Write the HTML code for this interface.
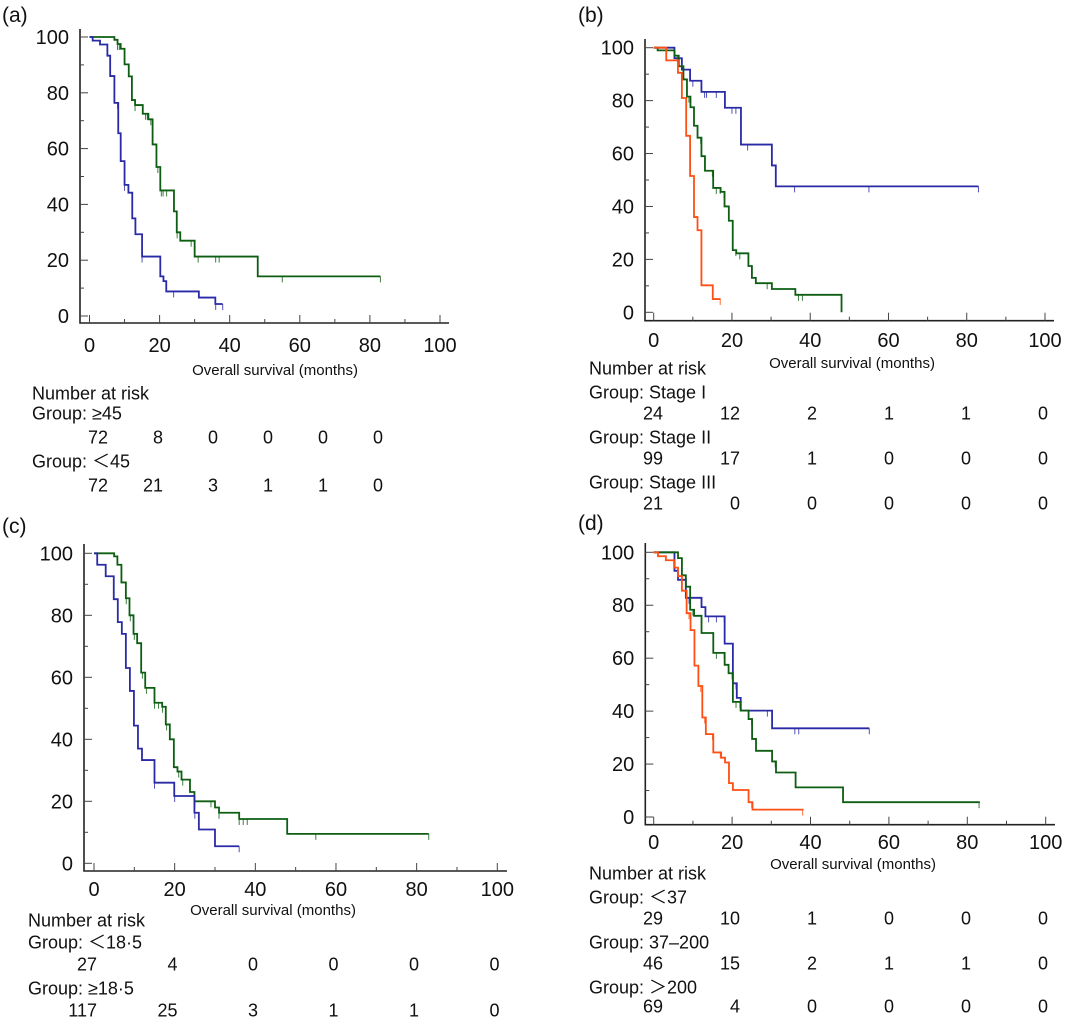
<!DOCTYPE html>
<html><head><meta charset="utf-8">
<style>
html,body{margin:0;padding:0;background:#fff;}
svg{display:block;font-family:"Liberation Sans","Noto Sans CJK SC",sans-serif;}
</style></head>
<body>
<svg id="fig" width="1065" height="1020" viewBox="0 0 1065 1020" xmlns="http://www.w3.org/2000/svg"></svg>
<script>
// ---------- Panel (a) data ----------
const aGreenT = [7.1, 8, 8.9, 10, 11.2, 12.1, 13, 15.2, 16.8, 18, 19.1, 20.2, 24.1, 24.9, 25.9, 30, 48];
const aGreenS = [99, 97.5, 95.8, 90.2, 85.9, 77.4, 75.6, 72.5, 70.5, 61.5, 53.4, 45, 37.5, 30, 27, 21.3, 14.2];
const aGreenCensor = [8, 8.5, 12, 13, 16, 16.5, 17.5, 19.5, 20.5, 21, 22, 25, 29, 31, 36, 37, 55, 83];
const aGreenEnd = 83;
const aBlueT = [0.9, 3, 5.1, 5.9, 7.1, 8.2, 8.9, 10, 11.1, 12.2, 13.1, 15, 20.2, 21.1, 21.9, 31.2, 35.9];
const aBlueS = [98.7, 97.3, 93.3, 86, 76.4, 65.5, 55.5, 47, 44.2, 35, 29.3, 21.3, 14.2, 12.5, 8.8, 6.6, 4.3];
const aBlueCensor = [8, 10, 13, 15, 24, 36, 38];
const aBlueEnd = 38;
// ---------- Panel (b) data ----------
const bBlueT = [5.3, 7.2, 9.3, 12.2, 18.2, 22.3, 30.2, 31.2];
const bBlueS = [96, 91.7, 87.5, 83.3, 77.3, 63.4, 55.5, 47.6];
const bBlueCensor = [10, 13, 13.5, 16, 20, 21, 24, 36, 55, 83];
const bBlueEnd = 83;
const bGreenT = [1, 5.3, 6.4, 7.6, 8.5, 9.4, 10.3, 11.2, 12.2, 13.1, 15.2, 17.1, 18.1, 19.2, 20.2, 21.1, 24.2, 25.1, 26.1, 30.2, 36.2, 48];
const bGreenS = [99, 97, 93, 88, 81.5, 77.5, 70.5, 66, 59, 53.5, 47, 45.5, 40, 34.6, 23.5, 22.3, 17.5, 13, 11, 8.8, 6.6, 0];
const bGreenCensor = [6, 7.5, 9, 12, 15, 16, 17, 18, 21, 22, 25, 29, 37, 38];
const bGreenEnd = 48;
const bOrangeT = [3.2, 6.2, 7.2, 8.3, 9.3, 10.3, 11.2, 12.2, 15.1];
const bOrangeS = [95.2, 90.5, 81, 66.7, 51.5, 36, 31, 10.2, 5];
const bOrangeCensor = [17];
const bOrangeEnd = 17.1;
// ---------- Panel (c) data ----------
const cGreenT = [5, 5.8, 6.8, 7.9, 8.8, 9.8, 10.7, 11.7, 12.7, 15, 16.9, 17.8, 18.8, 19.8, 20.7, 21.7, 23.8, 24.9, 30, 31, 36, 47.9];
const cGreenS = [99, 96.3, 90.6, 85.5, 80, 74, 71, 61.5, 56.6, 51.8, 50.5, 44.8, 40, 31, 29.6, 27, 23, 20, 18, 16.3, 14.3, 9.5];
const cGreenCensor = [8, 9, 10, 12, 13, 15, 16, 17, 18, 21, 22, 25, 29, 31, 36, 37, 38, 55, 83];
const cGreenEnd = 83;
const cBlueT = [0.8, 2.9, 4.9, 5.9, 6.9, 7.9, 8.9, 9.9, 10.9, 11.9, 15, 19.9, 24.9, 26, 30];
const cBlueS = [96.3, 92.6, 85.2, 77.8, 74, 63, 55.6, 44.4, 37, 33.3, 26, 21.7, 16.3, 10.9, 5.5];
const cBlueCensor = [15, 20, 25, 36];
const cBlueEnd = 36;
// ---------- Panel (d) data ----------
const dBlueT = [5.3, 6.2, 8.2, 12.2, 13.2, 18.1, 20.2, 21.2, 22.2, 30.2];
const dBlueS = [93, 89.6, 82.8, 79.3, 75.8, 65.5, 50.5, 45, 40.2, 33.5];
const dBlueCensor = [9, 14, 16, 18, 21, 29, 36, 37, 55];
const dBlueEnd = 55;
const dGreenT = [6.2, 7.2, 8.2, 9.3, 10.3, 12.2, 15.2, 18.1, 19.1, 20.2, 22.2, 24.2, 25.1, 26.1, 30.2, 31.2, 36.2, 48.3];
const dGreenS = [97.8, 91.3, 87, 78.3, 76, 69.5, 62, 57.5, 54.3, 43.5, 40.2, 37, 29.5, 25, 21, 16.8, 11.2, 5.6];
const dGreenCensor = [10, 16, 18, 20, 21, 22, 25, 31, 83];
const dGreenEnd = 83.2;
const dOrangeT = [1.1, 3.1, 5.2, 6.2, 7.2, 8.4, 9.4, 10.4, 11.4, 12.4, 13.3, 15.2, 17.2, 18.2, 19.2, 20.2, 24.2, 25.2];
const dOrangeS = [98.5, 97, 94.2, 91, 85.5, 77, 70.6, 57.2, 49.5, 37.6, 31.3, 24.4, 22.4, 20.6, 12.8, 10.2, 5.6, 2.8];
const dOrangeCensor = [9, 12, 13, 15, 17, 25, 38];
const dOrangeEnd = 38.2;
// ---------- Axis ticks ----------
const xTickLabels = [0, 20, 40, 60, 80, 100];
const yTickLabels = [0, 20, 40, 60, 80, 100];
// ---------- Risk tables ----------
const aRiskGroups = ["Group: ≥45", "Group: ＜45"];
const aRiskValues = [[72, 8, 0, 0, 0, 0], [72, 21, 3, 1, 1, 0]];
const bRiskGroups = ["Group: Stage I", "Group: Stage II", "Group: Stage III"];
const bRiskValues = [[24, 12, 2, 1, 1, 0], [99, 17, 1, 0, 0, 0], [21, 0, 0, 0, 0, 0]];
const cRiskGroups = ["Group: ＜18·5", "Group: ≥18·5"];
const cRiskValues = [[27, 4, 0, 0, 0, 0], [117, 25, 3, 1, 1, 0]];
const dRiskGroups = ["Group: ＜37", "Group: 37–200", "Group: ＞200"];
const dRiskValues = [[29, 10, 1, 0, 0, 0], [46, 15, 2, 1, 1, 0], [69, 4, 0, 0, 0, 0]];

const BLUE = "#2a2aa6", GREEN = "#0d5e12", ORANGE = "#ff4f14";
const NS = "http://www.w3.org/2000/svg";
const svg = document.getElementById("fig");
function mk(tag, attrs, parent) {
  const e = document.createElementNS(NS, tag);
  for (const k in attrs) e.setAttribute(k, attrs[k]);
  (parent || svg).appendChild(e);
  return e;
}

const panels = [
  {id: "a", label: "(a)", lx: 2, ly: 22, x0: 89.5, x100: 440, y0: 316, y100: 37, axX: 80, axY: 323, axTop: 29, axRight: 449,
   tickY: 352, titleX: 275, titleY: 375, riskX: 32, riskYs: [393, 413, 437, 461, 485], riskNumX: 108, riskNumStep: 55,
   groups: aRiskGroups, values: aRiskValues,
   series: [
     {name: "green", color: GREEN, t: aGreenT, s: aGreenS, c: aGreenCensor, end: aGreenEnd},
     {name: "blue", color: BLUE, t: aBlueT, s: aBlueS, c: aBlueCensor, end: aBlueEnd}]},
  {id: "b", label: "(b)", lx: 578, ly: 22, x0: 653.7, x100: 1045, y0: 312.3, y100: 47.7, axX: 645, axY: 320.7, axTop: 39, axRight: 1054,
   tickY: 347, titleX: 852, titleY: 368, riskX: 589, riskYs: [368, 392, 413, 437, 458, 482, 503], riskNumX: 663, riskNumStep: 77,
   groups: bRiskGroups, values: bRiskValues,
   series: [
     {name: "blue", color: BLUE, t: bBlueT, s: bBlueS, c: bBlueCensor, end: bBlueEnd},
     {name: "green", color: GREEN, t: bGreenT, s: bGreenS, c: bGreenCensor, end: bGreenEnd},
     {name: "orange", color: ORANGE, t: bOrangeT, s: bOrangeS, c: bOrangeCensor, end: bOrangeEnd}]},
  {id: "c", label: "(c)", lx: 2, ly: 533, x0: 94, x100: 497.3, y0: 863.3, y100: 553.3, axX: 84, axY: 871, axTop: 544, axRight: 507,
   tickY: 896, titleX: 273, titleY: 915, riskX: 28, riskYs: [920, 942, 964, 988, 1010], riskNumX: 97, riskNumStep: 80.5,
   groups: cRiskGroups, values: cRiskValues,
   series: [
     {name: "green", color: GREEN, t: cGreenT, s: cGreenS, c: cGreenCensor, end: cGreenEnd},
     {name: "blue", color: BLUE, t: cBlueT, s: cBlueS, c: cBlueCensor, end: cBlueEnd}]},
  {id: "d", label: "(d)", lx: 578, ly: 530, x0: 653.7, x100: 1045.7, y0: 817, y100: 552.3, axX: 645.3, axY: 824.7, axTop: 543, axRight: 1055,
   tickY: 849, titleX: 853, titleY: 869, riskX: 589, riskYs: [873, 897, 918, 942, 963, 987, 1006], riskNumX: 663, riskNumStep: 77,
   groups: dRiskGroups, values: dRiskValues,
   series: [
     {name: "blue", color: BLUE, t: dBlueT, s: dBlueS, c: dBlueCensor, end: dBlueEnd},
     {name: "green", color: GREEN, t: dGreenT, s: dGreenS, c: dGreenCensor, end: dGreenEnd},
     {name: "orange", color: ORANGE, t: dOrangeT, s: dOrangeS, c: dOrangeCensor, end: dOrangeEnd}]}
];

function survAt(ser, t) {
  let v = 100;
  for (let i = 0; i < ser.t.length; i++) if (ser.t[i] <= t) v = ser.s[i];
  return v;
}

panels.forEach(p => {
  const sx = t => p.x0 + (p.x100 - p.x0) * t / 100;
  const sy = v => p.y0 - (p.y0 - p.y100) * v / 100;
  const g = mk("g", {});
  
  

  const lab = mk("text", {x: p.lx, y: p.ly, "font-size": 21, fill: "#111"}, g);
  lab.textContent = p.label;
  
  

  const ax = mk("path", {d: `M${p.axX},${p.axTop}V${p.axY}H${p.axRight}`, fill: "none", stroke: "#222", "stroke-width": 1.6}, g);
  
  
  for (let v = 0; v <= 100; v += 10) {
    const len = v % 20 === 0 ? 8 : 4;
    mk("line", {x1: p.axX, x2: p.axX + len, y1: sy(v), y2: sy(v), stroke: "#444", "stroke-width": 1}, g);
  }
  yTickLabels.forEach(v => {
    const t = mk("text", {x: p.axX - 11, y: sy(v) + 7, "font-size": 20, "text-anchor": "end", fill: "#111"}, g);
    t.textContent = v;
    
    
  });
  for (let m = 0; m <= 100; m += 10) {
    const len = m % 20 === 0 ? 8 : 4;
    mk("line", {x1: sx(m), x2: sx(m), y1: p.axY, y2: p.axY - len, stroke: "#444", "stroke-width": 1}, g);
  }
  xTickLabels.forEach(m => {
    const t = mk("text", {x: sx(m), y: p.tickY, "font-size": 20, "text-anchor": "middle", fill: "#111"}, g);
    t.textContent = m;
    
    
  });
  const tt = mk("text", {x: p.titleX, y: p.titleY, "font-size": 15, "text-anchor": "middle", fill: "#111"}, g);
  tt.textContent = "Overall survival (months)";
  
  

  p.series.forEach(ser => {
    let d = `M${sx(0)},${sy(100)}`;
    for (let i = 0; i < ser.t.length; i++) {
      d += `H${sx(ser.t[i])}V${sy(ser.s[i])}`;
    }
    d += `H${sx(ser.end)}`;
    const path = mk("path", {d: d, fill: "none", stroke: ser.color, "stroke-width": 1.8}, g);
    
    
    ser.c.forEach(ct => {
      const yv = sy(survAt(ser, ct));
      const cm = mk("line", {x1: sx(ct), x2: sx(ct), y1: yv, y2: yv + 6, stroke: ser.color, "stroke-width": 1, opacity: 0.8}, g);
      
      
    });
  });

  const nar = mk("text", {x: p.riskX, y: p.riskYs[0] + 6.5, "font-size": 18, fill: "#111"}, g);
  nar.textContent = "Number at risk";
  
  
  p.groups.forEach((gname, gi) => {
    const gy = p.riskYs[1 + gi * 2], ny = p.riskYs[2 + gi * 2];
    const gt = mk("text", {x: p.riskX, y: gy + 6.5, "font-size": 18, fill: "#111"}, g);
    gt.textContent = gname;
    
    
    p.values[gi].forEach((val, vi) => {
      const nt = mk("text", {x: p.riskNumX + vi * p.riskNumStep, y: ny + 6.5, "font-size": 18, "text-anchor": "end", fill: "#111"}, g);
      nt.textContent = val;
      
      
    });
  });
});
</script>
</body></html>
